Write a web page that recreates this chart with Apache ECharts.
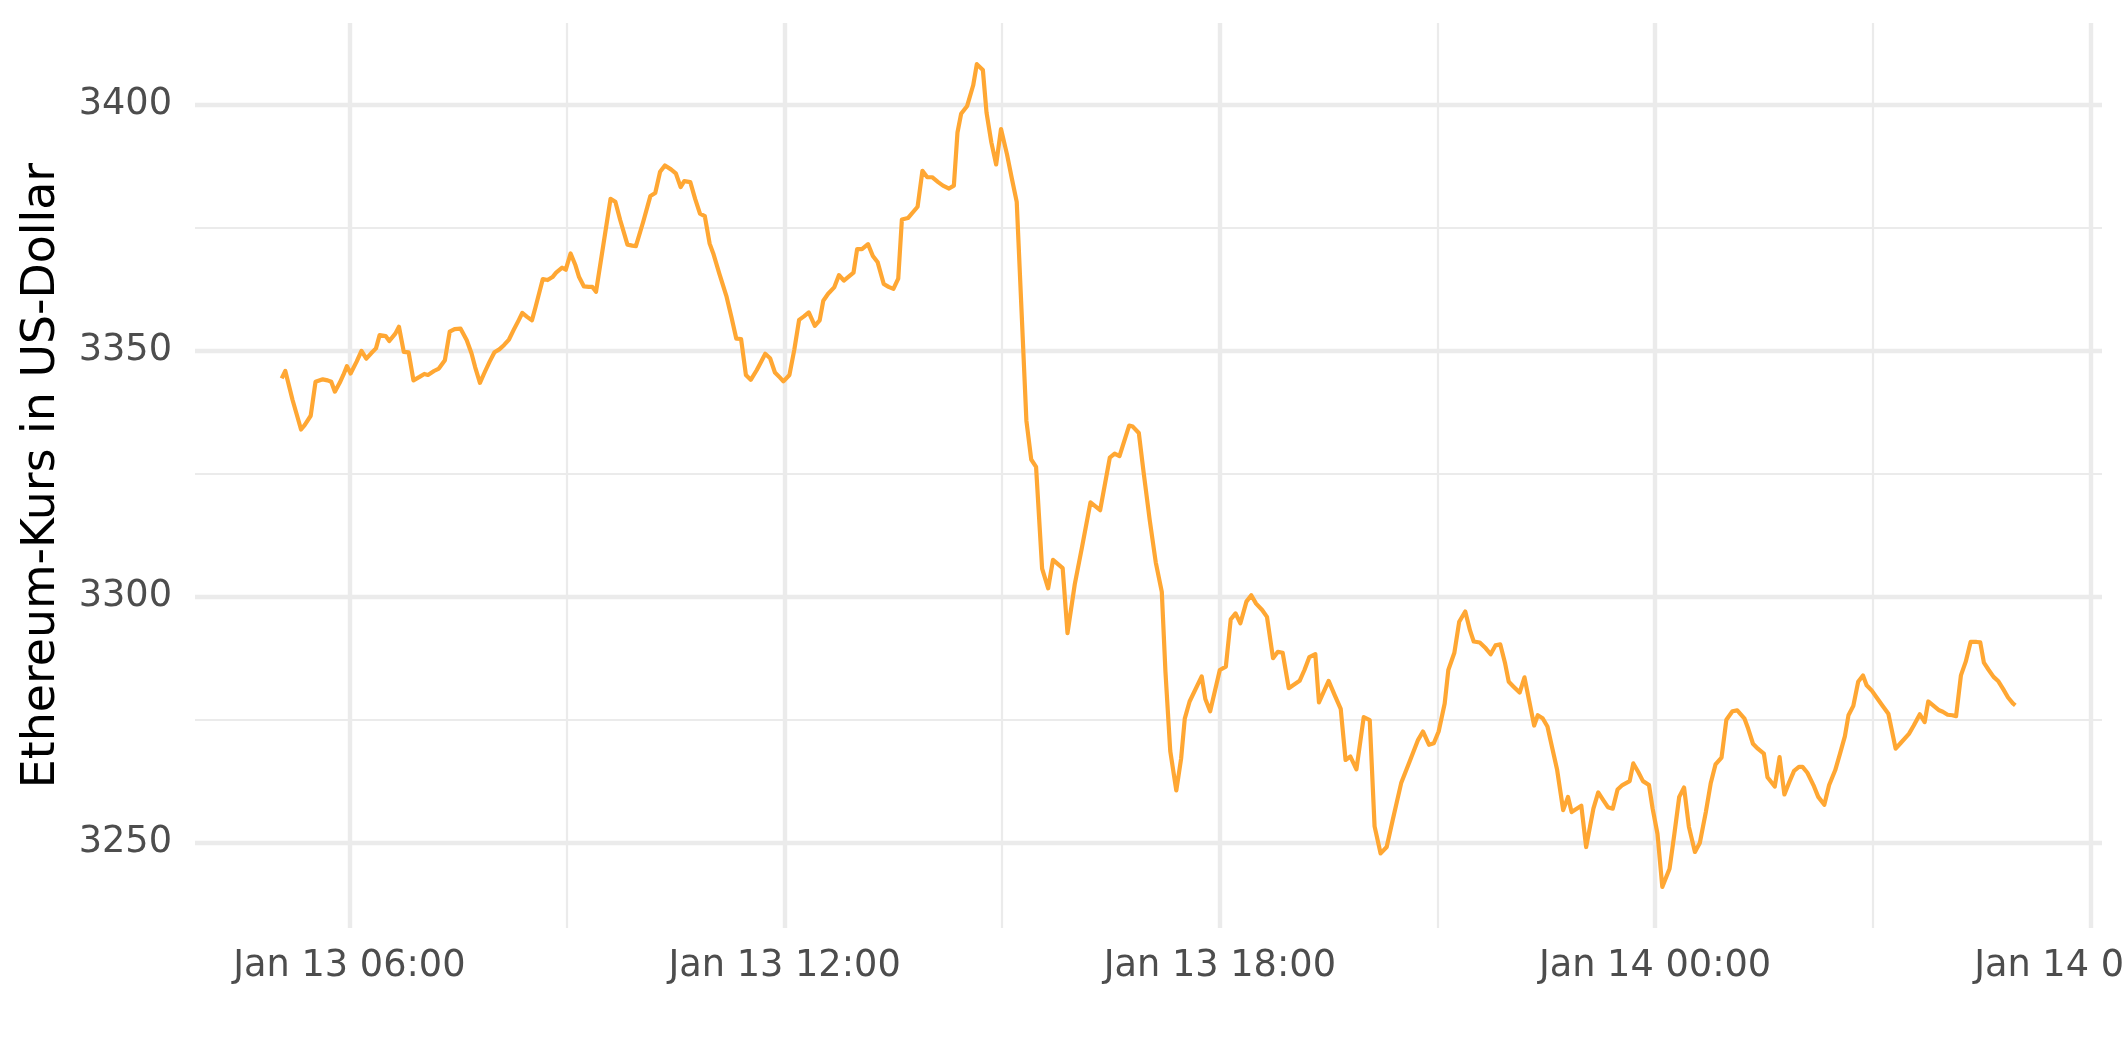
<!DOCTYPE html>
<html>
<head>
<meta charset="utf-8">
<script src="https://cdn.jsdelivr.net/npm/echarts@6/dist/echarts.min.js"></script>
<style>
html, body { margin: 0; padding: 0; background: #ffffff; }
#chart { width: 2125px; height: 1062px; }
</style>
</head>
<body>
<div id="chart"></div>
<script>
// Day the series starts (UTC); times are minutes after midnight of that day
const startDay = '2025-01-13T00:00:00Z';

const minutesAfterStart = [
  304, 307, 313, 317, 320, 323, 328, 332, 338, 342, 345, 348, 352, 355, 358, 361, 366, 370, 374, 378,
  382, 385, 390, 393, 398, 401, 405, 409, 413, 418, 422, 425, 430, 434, 439, 443, 447, 452, 457, 461,
  464, 468, 472, 476, 480, 484, 488, 492, 496, 500, 503, 507, 511, 514, 520, 524, 528, 531, 536, 539,
  543, 547, 550, 554, 558, 561, 564, 576, 580, 584, 590, 594, 597, 603, 609, 613, 617, 621, 626, 630,
  634, 637, 642, 646, 650, 654, 658, 661, 666, 672, 676, 680, 684, 688, 692, 697, 701, 704, 708, 712,
  716, 719, 724, 728, 732, 736, 740, 745, 749, 752, 756, 761, 765, 769, 777, 780, 784, 789, 793, 797,
  802, 806, 810, 814, 817, 822, 830, 834, 838, 842, 847, 851, 856, 860, 863, 866, 871, 876, 879, 884,
  887, 891, 895, 899, 904, 908, 912, 920, 924, 928, 933, 938, 942, 950, 954, 960, 966, 973, 981, 989,
  993, 997, 1005, 1008, 1013, 1017, 1022, 1027, 1032, 1035, 1039, 1044, 1048, 1051, 1055, 1065, 1068, 1072, 1080, 1085,
  1089, 1093, 1097, 1102, 1106, 1110, 1115, 1119, 1124, 1128, 1132, 1137, 1146, 1150, 1154, 1159, 1162, 1170, 1175, 1180,
  1184, 1188, 1193, 1199, 1204, 1208, 1213, 1218, 1223, 1230, 1237, 1244, 1248, 1253, 1257, 1261, 1266, 1269, 1274, 1278,
  1283, 1287, 1290, 1295, 1300, 1304, 1308, 1312, 1316, 1319, 1323, 1328, 1332, 1336, 1340, 1343, 1347, 1351, 1355, 1359,
  1364, 1368, 1371, 1379, 1383, 1389, 1393, 1397, 1401, 1405, 1409, 1413, 1419, 1422, 1426, 1430, 1435, 1438, 1442, 1446,
  1452, 1456, 1460, 1464, 1468, 1473, 1477, 1482, 1486, 1490, 1495, 1499, 1504, 1508, 1514, 1517, 1521, 1525, 1530, 1533,
  1539, 1543, 1547, 1551, 1555, 1559, 1562, 1566, 1571, 1575, 1580, 1584, 1589, 1593, 1597, 1600, 1604, 1608, 1612, 1615,
  1619, 1623, 1628, 1633, 1639, 1643, 1650, 1654, 1659, 1663, 1666, 1670, 1675, 1678, 1682, 1686, 1689, 1693, 1697, 1701,
  1706, 1709, 1712, 1716, 1720, 1724, 1728, 1732, 1736, 1738
];

const ethPriceUsd = [
  3344.4, 3345.9, 3340.0, 3336.6, 3334.0, 3334.9, 3336.8, 3343.7, 3344.2, 3344.0, 3343.7, 3341.7, 3343.5, 3345.1, 3346.9, 3345.4, 3347.8, 3350.0, 3348.4, 3349.5,
  3350.5, 3353.2, 3353.0, 3352.0, 3353.5, 3354.9, 3349.8, 3349.7, 3344.0, 3344.7, 3345.3, 3345.1, 3345.9, 3346.4, 3348.1, 3353.9, 3354.4, 3354.5, 3352.2, 3349.5,
  3346.7, 3343.5, 3345.7, 3347.8, 3349.7, 3350.3, 3351.2, 3352.3, 3354.3, 3356.2, 3357.7, 3356.9, 3356.2, 3358.9, 3364.6, 3364.4, 3365.0, 3365.9, 3366.9, 3366.5,
  3369.8, 3367.4, 3365.0, 3363.1, 3363.0, 3363.0, 3362.0, 3380.9, 3380.3, 3376.6, 3371.6, 3371.4, 3371.3, 3376.2, 3381.5, 3382.1, 3386.4, 3387.7, 3386.9, 3386.1,
  3383.3, 3384.5, 3384.3, 3380.9, 3377.9, 3377.4, 3371.8, 3369.8, 3365.7, 3361.0, 3356.9, 3352.5, 3352.4, 3345.1, 3344.1, 3346.1, 3348.0, 3349.4, 3348.5, 3345.6,
  3344.6, 3343.8, 3345.1, 3350.2, 3356.3, 3357.0, 3357.8, 3355.1, 3356.2, 3360.2, 3361.6, 3362.9, 3365.4, 3364.3, 3365.9, 3370.7, 3370.7, 3371.7, 3369.3, 3368.0,
  3363.6, 3363.0, 3362.6, 3364.7, 3376.7, 3377.0, 3379.3, 3386.6, 3385.3, 3385.3, 3384.3, 3383.6, 3383.0, 3383.6, 3394.4, 3398.2, 3399.8, 3404.0, 3408.3, 3407.1,
  3398.5, 3392.4, 3387.9, 3395.1, 3389.9, 3385.0, 3380.3, 3335.8, 3327.9, 3326.4, 3305.7, 3301.7, 3307.5, 3305.8, 3292.6, 3302.5, 3310.1, 3319.2, 3317.6, 3328.3,
  3329.1, 3328.6, 3334.8, 3334.6, 3333.3, 3325.2, 3315.6, 3307.0, 3301.0, 3284.8, 3268.6, 3260.6, 3267.1, 3275.2, 3278.7, 3283.8, 3279.2, 3276.7, 3285.1, 3285.8,
  3295.4, 3296.6, 3294.6, 3299.0, 3300.3, 3298.6, 3297.3, 3295.9, 3287.5, 3288.8, 3288.6, 3281.4, 3282.9, 3285.1, 3287.7, 3288.3, 3278.5, 3282.9, 3280.0, 3277.2,
  3266.8, 3267.5, 3264.9, 3275.5, 3274.9, 3253.3, 3247.8, 3249.1, 3254.6, 3262.1, 3266.5, 3270.9, 3272.6, 3269.9, 3270.2, 3272.6, 3278.3, 3285.1, 3288.6, 3294.9,
  3297.0, 3293.1, 3290.9, 3290.7, 3289.5, 3288.3, 3290.1, 3290.3, 3286.4, 3282.7, 3281.7, 3280.5, 3283.6, 3278.7, 3273.8, 3275.9, 3275.3, 3273.6, 3269.2, 3264.8,
  3256.6, 3259.3, 3256.2, 3257.5, 3249.1, 3256.9, 3260.2, 3258.7, 3257.2, 3256.9, 3260.8, 3261.7, 3262.5, 3266.1, 3264.4, 3262.5, 3261.7, 3256.9, 3251.8, 3241.0,
  3244.7, 3251.8, 3259.3, 3261.2, 3253.2, 3248.1, 3249.9, 3256.2, 3262.0, 3265.9, 3267.3, 3275.0, 3276.7, 3276.9, 3275.2, 3273.2, 3270.1, 3269.1, 3268.1, 3263.3,
  3261.4, 3267.4, 3259.8, 3262.3, 3264.6, 3265.4, 3265.4, 3264.2, 3261.7, 3259.3, 3257.7, 3261.7, 3264.7, 3268.1, 3271.6, 3275.9, 3277.8, 3282.7, 3284.0, 3282.0,
  3281.0, 3279.6, 3277.9, 3276.2, 3269.1, 3270.2, 3272.1, 3273.8, 3276.1, 3274.5, 3278.7, 3277.9, 3276.9, 3276.6, 3276.0, 3275.9, 3275.7, 3284.0, 3286.8, 3290.8,
  3290.8, 3290.7, 3286.6, 3285.1, 3283.7, 3282.8, 3281.2, 3279.5, 3278.3, 3277.9
];

const yMajorTicks = [3250, 3300, 3350, 3400];
const yMinorTicks = [3275, 3325, 3375];
const xMajorTicks = ['2025-01-13T06:00:00Z', '2025-01-13T12:00:00Z', '2025-01-13T18:00:00Z', '2025-01-14T00:00:00Z', '2025-01-14T06:00:00Z'];
const xMinorTicks = ['2025-01-13T09:00:00Z', '2025-01-13T15:00:00Z', '2025-01-13T21:00:00Z', '2025-01-14T03:00:00Z'];

const yTitle = 'Ethereum-Kurs in US-Dollar';

// ---- build ----
const t0 = Date.parse(startDay);
const times = minutesAfterStart.map(m => t0 + m * 60000);
const seriesData = times.map((t, i) => [t, ethPriceUsd[i]]);

// ggplot-like 5% expansion of the data range
const tMin = Math.min(...times), tMax = Math.max(...times);
const pMin = Math.min(...ethPriceUsd), pMax = Math.max(...ethPriceUsd);
const xMin = tMin - 0.05 * (tMax - tMin), xMax = tMax + 0.05 * (tMax - tMin);
const yMin = pMin - 0.05 * (pMax - pMin), yMax = pMax + 0.05 * (pMax - pMin);
// one scale interval spanning the whole extent keeps ECharts from widening it;
// visible ticks/grid lines come from customValues below
const xSpan = xMax - xMin, ySpan = yMax - yMin;

const xMajorTs = xMajorTicks.map(s => Date.parse(s));
const xMinorTs = xMinorTicks.map(s => Date.parse(s));

const MONTHS = ['Jan','Feb','Mar','Apr','May','Jun','Jul','Aug','Sep','Oct','Nov','Dec'];
const pad = n => String(n).padStart(2, '0');
function fmtTime(v) {
  const d = new Date(v);
  return MONTHS[d.getUTCMonth()] + ' ' + d.getUTCDate() + ' ' + pad(d.getUTCHours()) + ':' + pad(d.getUTCMinutes());
}

const FONT = 'DejaVu Sans';
const GRID_COL = '#EBEBEB';
const TEXT_COL = '#4D4D4D';

function xAxisDef(ticks, major) {
  return {
    type: 'value', min: xMin, max: xMax, interval: xSpan,
    axisLine: { show: false },
    axisTick: { show: false, customValues: ticks },
    axisLabel: major ? {
      customValues: ticks, formatter: fmtTime,
      color: TEXT_COL, fontFamily: FONT, fontSize: 36.7, margin: 20
    } : { show: false },
    splitLine: { show: true, lineStyle: { color: GRID_COL, width: major ? 4.4 : 2.2 } }
  };
}
function yAxisDef(ticks, major) {
  const a = {
    type: 'value', min: yMin, max: yMax, interval: ySpan,
    axisLine: { show: false },
    axisTick: { show: false, customValues: ticks },
    axisLabel: major ? {
      customValues: ticks, formatter: v => String(v),
      color: TEXT_COL, fontFamily: FONT, fontSize: 36.7, margin: 23
    } : { show: false },
    splitLine: { show: true, lineStyle: { color: GRID_COL, width: major ? 4.4 : 2.2 } }
  };
  if (major) {
    a.name = yTitle;
    a.nameLocation = 'middle';
    a.nameGap = 130;
    a.nameTextStyle = { fontFamily: FONT, fontSize: 45.8, color: '#000000' };
  }
  return a;
}

const chart = echarts.init(document.getElementById('chart'), null, { renderer: 'canvas' });
chart.setOption({
  animation: false,
  backgroundColor: '#ffffff',
  grid: {
    left: 195, right: 23, top: 23, bottom: 134,
    containLabel: false, outerBoundsMode: 'none', show: false
  },
  xAxis: [xAxisDef(xMajorTs, true), xAxisDef(xMinorTs, false)],
  yAxis: [yAxisDef(yMajorTicks, true), yAxisDef(yMinorTicks, false)],
  series: [{
    type: 'line',
    xAxisIndex: 0, yAxisIndex: 0,
    data: seriesData,
    showSymbol: false,
    symbol: 'none',
    lineStyle: { color: '#FFA733', width: 4.2, join: 'round', cap: 'butt' },
    z: 5
  }]
});
</script>
</body>
</html>
